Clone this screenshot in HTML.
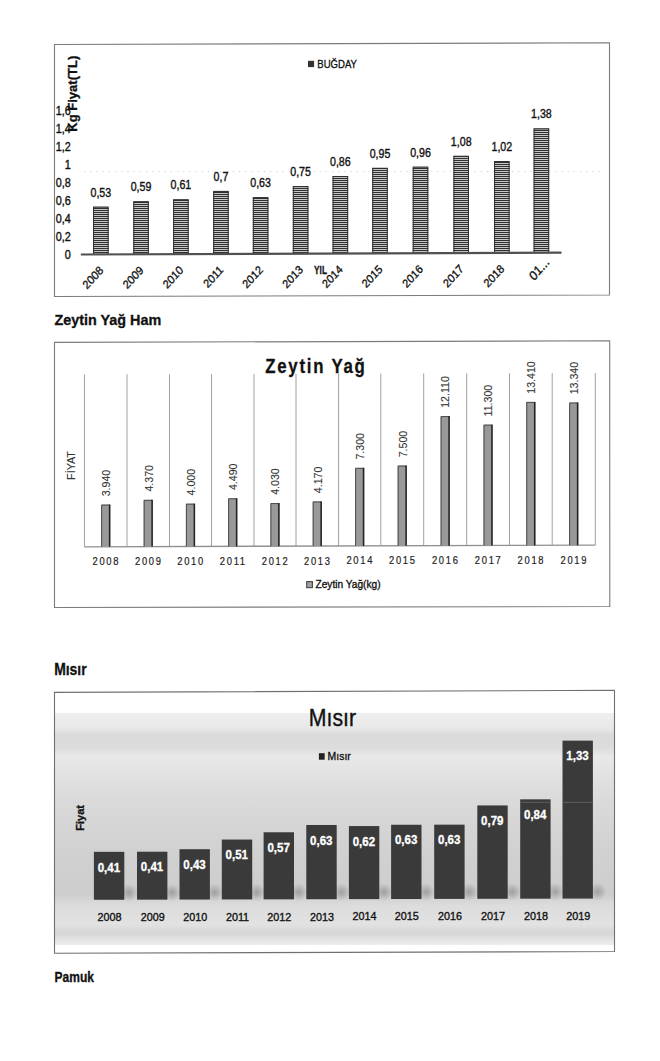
<!DOCTYPE html><html lang="tr"><head><meta charset="utf-8"><title>Grafikler</title>
<style>html,body{margin:0;padding:0;background:#fff;overflow:hidden}svg{display:block}text{font-family:"Liberation Sans",sans-serif;}</style></head><body>
<svg width="660" height="1061" viewBox="0 0 660 1061">
<defs><pattern id="stripe" width="4" height="2" patternUnits="userSpaceOnUse"><rect width="4" height="2" fill="#c6c6c6"/><rect width="4" height="1" fill="#303030"/></pattern><linearGradient id="bg3" x1="0" y1="713" x2="0" y2="945" gradientUnits="userSpaceOnUse"><stop offset="0" stop-color="#efefef"/><stop offset="0.065" stop-color="#e8e8e8"/><stop offset="0.095" stop-color="#dadada"/><stop offset="0.15" stop-color="#dcdcdc"/><stop offset="0.19" stop-color="#e9e9e9"/><stop offset="0.245" stop-color="#e3e3e3"/><stop offset="0.375" stop-color="#dadada"/><stop offset="0.59" stop-color="#d1d1d1"/><stop offset="0.78" stop-color="#cdcdcd"/><stop offset="0.83" stop-color="#dcdcdc"/><stop offset="0.91" stop-color="#e2e2e2"/><stop offset="0.95" stop-color="#d6d6d6"/><stop offset="1" stop-color="#eeeeee"/></linearGradient><radialGradient id="shadow" cx="0.5" cy="0.5" r="0.5"><stop offset="0" stop-color="#000" stop-opacity="0.22"/><stop offset="1" stop-color="#000" stop-opacity="0"/></radialGradient></defs>
<rect width="660" height="1061" fill="#fff"/>
<path d="M54.5 44.5 L609.5 42.8 L609.5 295 L54.5 296.5 Z" fill="none" stroke="#7c7c7c" stroke-width="1.1"/>
<line x1="84" y1="171.6" x2="600" y2="171.6" stroke="#cfcfcf" stroke-width="1" stroke-dasharray="1.2 5"/>
<rect x="93.05" y="206.72" width="15.6" height="47.70" fill="url(#stripe)"/>
<rect x="93.55" y="207.22" width="14.6" height="47.20" fill="none" stroke="#2e2e2e" stroke-width="1"/>
<rect x="133.25" y="201.16" width="15.6" height="53.10" fill="url(#stripe)"/>
<rect x="133.75" y="201.66" width="14.6" height="52.60" fill="none" stroke="#2e2e2e" stroke-width="1"/>
<rect x="173.10" y="199.20" width="15.6" height="54.90" fill="url(#stripe)"/>
<rect x="173.60" y="199.70" width="14.6" height="54.40" fill="none" stroke="#2e2e2e" stroke-width="1"/>
<rect x="213.15" y="190.94" width="15.6" height="63.00" fill="url(#stripe)"/>
<rect x="213.65" y="191.44" width="14.6" height="62.50" fill="none" stroke="#2e2e2e" stroke-width="1"/>
<rect x="252.80" y="197.08" width="15.6" height="56.70" fill="url(#stripe)"/>
<rect x="253.30" y="197.58" width="14.6" height="56.20" fill="none" stroke="#2e2e2e" stroke-width="1"/>
<rect x="292.80" y="186.12" width="15.6" height="67.50" fill="url(#stripe)"/>
<rect x="293.30" y="186.62" width="14.6" height="67.00" fill="none" stroke="#2e2e2e" stroke-width="1"/>
<rect x="332.55" y="176.06" width="15.6" height="77.40" fill="url(#stripe)"/>
<rect x="333.05" y="176.56" width="14.6" height="76.90" fill="none" stroke="#2e2e2e" stroke-width="1"/>
<rect x="372.20" y="167.80" width="15.6" height="85.50" fill="url(#stripe)"/>
<rect x="372.70" y="168.30" width="14.6" height="85.00" fill="none" stroke="#2e2e2e" stroke-width="1"/>
<rect x="412.70" y="166.74" width="15.6" height="86.40" fill="url(#stripe)"/>
<rect x="413.20" y="167.24" width="14.6" height="85.90" fill="none" stroke="#2e2e2e" stroke-width="1"/>
<rect x="453.40" y="155.78" width="15.6" height="97.20" fill="url(#stripe)"/>
<rect x="453.90" y="156.28" width="14.6" height="96.70" fill="none" stroke="#2e2e2e" stroke-width="1"/>
<rect x="494.05" y="161.02" width="15.6" height="91.80" fill="url(#stripe)"/>
<rect x="494.55" y="161.52" width="14.6" height="91.30" fill="none" stroke="#2e2e2e" stroke-width="1"/>
<rect x="533.60" y="128.46" width="15.6" height="124.20" fill="url(#stripe)"/>
<rect x="534.10" y="128.96" width="14.6" height="123.70" fill="none" stroke="#2e2e2e" stroke-width="1"/>
<line x1="80.8" y1="254.50" x2="561.5" y2="252.58" stroke="#505050" stroke-width="2.2"/>
<text font-size="11.5" text-anchor="middle" fill="#111" stroke="#111" stroke-width="0.35" transform="translate(100.85,196.65) scale(0.926,1.032)">0,53</text>
<text font-size="11.5" text-anchor="middle" fill="#111" stroke="#111" stroke-width="0.35" transform="translate(141.05,191.09) scale(0.926,1.032)">0,59</text>
<text font-size="11.5" text-anchor="middle" fill="#111" stroke="#111" stroke-width="0.35" transform="translate(180.90,189.13) scale(0.926,1.032)">0,61</text>
<text font-size="11.5" text-anchor="middle" fill="#111" stroke="#111" stroke-width="0.35" transform="translate(220.95,180.87) scale(0.926,1.032)">0,7</text>
<text font-size="11.5" text-anchor="middle" fill="#111" stroke="#111" stroke-width="0.35" transform="translate(260.60,187.01) scale(0.926,1.032)">0,63</text>
<text font-size="11.5" text-anchor="middle" fill="#111" stroke="#111" stroke-width="0.35" transform="translate(300.60,176.05) scale(0.926,1.032)">0,75</text>
<text font-size="11.5" text-anchor="middle" fill="#111" stroke="#111" stroke-width="0.35" transform="translate(340.35,165.99) scale(0.926,1.032)">0,86</text>
<text font-size="11.5" text-anchor="middle" fill="#111" stroke="#111" stroke-width="0.35" transform="translate(380.00,157.74) scale(0.926,1.032)">0,95</text>
<text font-size="11.5" text-anchor="middle" fill="#111" stroke="#111" stroke-width="0.35" transform="translate(420.50,156.67) scale(0.926,1.032)">0,96</text>
<text font-size="11.5" text-anchor="middle" fill="#111" stroke="#111" stroke-width="0.35" transform="translate(461.20,145.71) scale(0.926,1.032)">1,08</text>
<text font-size="11.5" text-anchor="middle" fill="#111" stroke="#111" stroke-width="0.35" transform="translate(501.85,150.95) scale(0.926,1.032)">1,02</text>
<text font-size="11.5" text-anchor="middle" fill="#111" stroke="#111" stroke-width="0.35" transform="translate(541.40,118.39) scale(0.926,1.032)">1,38</text>
<text font-size="11.5" text-anchor="end" fill="#111" stroke="#111" stroke-width="0.35" transform="translate(103.96,271.16) scale(0.932,1.025) rotate(-45)">2008</text>
<text font-size="11.5" text-anchor="end" fill="#111" stroke="#111" stroke-width="0.35" transform="translate(144.16,271.00) scale(0.932,1.025) rotate(-45)">2009</text>
<text font-size="11.5" text-anchor="end" fill="#111" stroke="#111" stroke-width="0.35" transform="translate(184.01,270.84) scale(0.932,1.025) rotate(-45)">2010</text>
<text font-size="11.5" text-anchor="end" fill="#111" stroke="#111" stroke-width="0.35" transform="translate(224.06,270.68) scale(0.932,1.025) rotate(-45)">2011</text>
<text font-size="11.5" text-anchor="end" fill="#111" stroke="#111" stroke-width="0.35" transform="translate(263.71,270.52) scale(0.932,1.025) rotate(-45)">2012</text>
<text font-size="11.5" text-anchor="end" fill="#111" stroke="#111" stroke-width="0.35" transform="translate(303.71,270.36) scale(0.932,1.025) rotate(-45)">2013</text>
<text font-size="11.5" text-anchor="end" fill="#111" stroke="#111" stroke-width="0.35" transform="translate(343.46,270.20) scale(0.932,1.025) rotate(-45)">2014</text>
<text font-size="11.5" text-anchor="end" fill="#111" stroke="#111" stroke-width="0.35" transform="translate(383.11,270.04) scale(0.932,1.025) rotate(-45)">2015</text>
<text font-size="11.5" text-anchor="end" fill="#111" stroke="#111" stroke-width="0.35" transform="translate(423.61,269.88) scale(0.932,1.025) rotate(-45)">2016</text>
<text font-size="11.5" text-anchor="end" fill="#111" stroke="#111" stroke-width="0.35" transform="translate(464.31,269.72) scale(0.932,1.025) rotate(-45)">2017</text>
<text font-size="11.5" text-anchor="end" fill="#111" stroke="#111" stroke-width="0.35" transform="translate(504.96,269.55) scale(0.932,1.025) rotate(-45)">2018</text>
<text font-size="11.5" text-anchor="end" fill="#111" stroke="#111" stroke-width="0.35" transform="translate(550.17,262.80) scale(1.023,1.179) rotate(-45)">01...</text>
<text font-size="11.5" text-anchor="end" fill="#111" stroke="#111" stroke-width="0.35" transform="translate(70.77,258.54) scale(0.940,1.074)">0</text>
<text font-size="11.5" text-anchor="end" fill="#111" stroke="#111" stroke-width="0.35" transform="translate(70.77,240.59) scale(0.940,1.074)">0,2</text>
<text font-size="11.5" text-anchor="end" fill="#111" stroke="#111" stroke-width="0.35" transform="translate(70.77,222.64) scale(0.940,1.074)">0,4</text>
<text font-size="11.5" text-anchor="end" fill="#111" stroke="#111" stroke-width="0.35" transform="translate(70.77,204.69) scale(0.940,1.074)">0,6</text>
<text font-size="11.5" text-anchor="end" fill="#111" stroke="#111" stroke-width="0.35" transform="translate(70.77,186.74) scale(0.940,1.074)">0,8</text>
<text font-size="11.5" text-anchor="end" fill="#111" stroke="#111" stroke-width="0.35" transform="translate(70.77,168.79) scale(0.940,1.074)">1</text>
<text font-size="11.5" text-anchor="end" fill="#111" stroke="#111" stroke-width="0.35" transform="translate(70.77,150.84) scale(0.940,1.074)">1,2</text>
<text font-size="11.5" text-anchor="end" fill="#111" stroke="#111" stroke-width="0.35" transform="translate(70.77,132.89) scale(0.940,1.074)">1,4</text>
<text font-size="11.5" text-anchor="end" fill="#111" stroke="#111" stroke-width="0.35" transform="translate(70.77,114.94) scale(0.940,1.074)">1,6</text>
<text font-size="12" font-weight="bold" fill="#111" stroke="#111" stroke-width="0.3" transform="translate(77.18,131.71) scale(1.049,1.086) rotate(-90)">Kg Fiyat(TL)</text>
<text font-size="11" font-weight="bold" fill="#111" stroke="#111" stroke-width="0.3" transform="translate(314.11,274.20) scale(0.752,0.973)">YIL</text>
<rect x="308" y="60.8" width="6.1" height="6.3" fill="#333"/>
<text font-size="12" fill="#111" stroke="#111" stroke-width="0.35" transform="translate(317.30,67.75) scale(0.796,0.986)">BUĞDAY</text>
<text font-size="14" font-weight="bold" fill="#111" stroke="#111" stroke-width="0.3" transform="translate(54.49,325.43) scale(1.027,1.057)">Zeytin Yağ Ham</text>
<path d="M54.5 342.4 L609.7 340.8 L609.8 606.5 L54.5 607.5 Z" fill="none" stroke="#7c7c7c" stroke-width="1.1"/>
<line x1="84.50" y1="374.50" x2="84.50" y2="546.80" stroke="#a0a0a0" stroke-width="1"/>
<line x1="127.00" y1="374.37" x2="127.00" y2="546.67" stroke="#a0a0a0" stroke-width="1"/>
<line x1="169.50" y1="374.25" x2="169.50" y2="546.53" stroke="#a0a0a0" stroke-width="1"/>
<line x1="211.50" y1="374.12" x2="211.50" y2="546.40" stroke="#a0a0a0" stroke-width="1"/>
<line x1="254.00" y1="373.99" x2="254.00" y2="546.27" stroke="#a0a0a0" stroke-width="1"/>
<line x1="296.00" y1="373.87" x2="296.00" y2="546.14" stroke="#a0a0a0" stroke-width="1"/>
<line x1="338.60" y1="373.74" x2="338.60" y2="546.00" stroke="#a0a0a0" stroke-width="1"/>
<line x1="380.80" y1="373.61" x2="380.80" y2="545.87" stroke="#a0a0a0" stroke-width="1"/>
<line x1="423.70" y1="373.48" x2="423.70" y2="545.74" stroke="#a0a0a0" stroke-width="1"/>
<line x1="466.70" y1="373.35" x2="466.70" y2="545.60" stroke="#a0a0a0" stroke-width="1"/>
<line x1="509.50" y1="373.23" x2="509.50" y2="545.47" stroke="#a0a0a0" stroke-width="1"/>
<line x1="552.20" y1="373.10" x2="552.20" y2="545.34" stroke="#a0a0a0" stroke-width="1"/>
<line x1="595.30" y1="372.97" x2="595.30" y2="545.20" stroke="#a0a0a0" stroke-width="1"/>
<line x1="84.5" y1="546.80" x2="595.3" y2="545.20" stroke="#909090" stroke-width="1.3"/>
<rect x="101.15" y="504.58" width="9.2" height="42.16" fill="#999"/>
<path d="M101.65 546.73V505.08H109.75" fill="none" stroke="#4a4a4a" stroke-width="1"/>
<line x1="109.60" y1="504.58" x2="109.60" y2="546.73" stroke="#222" stroke-width="1.5"/>
<rect x="143.65" y="499.84" width="9.2" height="46.76" fill="#999"/>
<path d="M144.15 546.60V500.34H152.25" fill="none" stroke="#4a4a4a" stroke-width="1"/>
<line x1="152.10" y1="499.84" x2="152.10" y2="546.60" stroke="#222" stroke-width="1.5"/>
<rect x="185.90" y="503.67" width="9.2" height="42.80" fill="#999"/>
<path d="M186.40 546.47V504.17H194.50" fill="none" stroke="#4a4a4a" stroke-width="1"/>
<line x1="194.35" y1="503.67" x2="194.35" y2="546.47" stroke="#222" stroke-width="1.5"/>
<rect x="228.15" y="498.29" width="9.2" height="48.04" fill="#999"/>
<path d="M228.65 546.34V498.79H236.75" fill="none" stroke="#4a4a4a" stroke-width="1"/>
<line x1="236.60" y1="498.29" x2="236.60" y2="546.34" stroke="#222" stroke-width="1.5"/>
<rect x="270.40" y="503.08" width="9.2" height="43.12" fill="#999"/>
<path d="M270.90 546.20V503.58H279.00" fill="none" stroke="#4a4a4a" stroke-width="1"/>
<line x1="278.85" y1="503.08" x2="278.85" y2="546.20" stroke="#222" stroke-width="1.5"/>
<rect x="312.70" y="501.45" width="9.2" height="44.62" fill="#999"/>
<path d="M313.20 546.07V501.95H321.30" fill="none" stroke="#4a4a4a" stroke-width="1"/>
<line x1="321.15" y1="501.45" x2="321.15" y2="546.07" stroke="#222" stroke-width="1.5"/>
<rect x="355.10" y="467.83" width="9.2" height="78.11" fill="#999"/>
<path d="M355.60 545.94V468.33H363.70" fill="none" stroke="#4a4a4a" stroke-width="1"/>
<line x1="363.55" y1="467.83" x2="363.55" y2="545.94" stroke="#222" stroke-width="1.5"/>
<rect x="397.65" y="465.56" width="9.2" height="80.25" fill="#999"/>
<path d="M398.15 545.81V466.06H406.25" fill="none" stroke="#4a4a4a" stroke-width="1"/>
<line x1="406.10" y1="465.56" x2="406.10" y2="545.81" stroke="#222" stroke-width="1.5"/>
<rect x="440.60" y="416.09" width="9.2" height="129.58" fill="#999"/>
<path d="M441.10 545.67V416.59H449.20" fill="none" stroke="#4a4a4a" stroke-width="1"/>
<line x1="449.05" y1="416.09" x2="449.05" y2="545.67" stroke="#222" stroke-width="1.5"/>
<rect x="483.50" y="424.63" width="9.2" height="120.91" fill="#999"/>
<path d="M484.00 545.54V425.13H492.10" fill="none" stroke="#4a4a4a" stroke-width="1"/>
<line x1="491.95" y1="424.63" x2="491.95" y2="545.54" stroke="#222" stroke-width="1.5"/>
<rect x="526.25" y="401.92" width="9.2" height="143.49" fill="#999"/>
<path d="M526.75 545.40V402.42H534.85" fill="none" stroke="#4a4a4a" stroke-width="1"/>
<line x1="534.70" y1="401.92" x2="534.70" y2="545.40" stroke="#222" stroke-width="1.5"/>
<rect x="569.15" y="402.53" width="9.2" height="142.74" fill="#999"/>
<path d="M569.65 545.27V403.03H577.75" fill="none" stroke="#4a4a4a" stroke-width="1"/>
<line x1="577.60" y1="402.53" x2="577.60" y2="545.27" stroke="#222" stroke-width="1.5"/>
<text font-size="10" fill="#333" stroke="#333" stroke-width="0.1" transform="translate(110.00,496.33) scale(1.029,1.062) rotate(-90)">3.940</text>
<text font-size="10" fill="#333" stroke="#333" stroke-width="0.1" transform="translate(152.50,491.60) scale(1.029,1.062) rotate(-90)">4.370</text>
<text font-size="10" fill="#333" stroke="#333" stroke-width="0.1" transform="translate(194.75,495.42) scale(1.029,1.062) rotate(-90)">4.000</text>
<text font-size="10" fill="#333" stroke="#333" stroke-width="0.1" transform="translate(237.00,490.05) scale(1.029,1.062) rotate(-90)">4.490</text>
<text font-size="10" fill="#333" stroke="#333" stroke-width="0.1" transform="translate(279.25,494.84) scale(1.029,1.062) rotate(-90)">4.030</text>
<text font-size="10" fill="#333" stroke="#333" stroke-width="0.1" transform="translate(321.55,493.21) scale(1.029,1.062) rotate(-90)">4.170</text>
<text font-size="10" fill="#333" stroke="#333" stroke-width="0.1" transform="translate(363.95,459.58) scale(1.029,1.062) rotate(-90)">7.300</text>
<text font-size="10" fill="#333" stroke="#333" stroke-width="0.1" transform="translate(406.50,457.31) scale(1.029,1.062) rotate(-90)">7.500</text>
<text font-size="10" fill="#333" stroke="#333" stroke-width="0.1" transform="translate(449.45,407.85) scale(1.029,1.062) rotate(-90)">12.110</text>
<text font-size="10" fill="#333" stroke="#333" stroke-width="0.1" transform="translate(492.35,416.38) scale(1.029,1.062) rotate(-90)">11.300</text>
<text font-size="10" fill="#333" stroke="#333" stroke-width="0.1" transform="translate(535.10,393.67) scale(1.029,1.062) rotate(-90)">13.410</text>
<text font-size="10" fill="#333" stroke="#333" stroke-width="0.1" transform="translate(578.00,394.29) scale(1.029,1.062) rotate(-90)">13.340</text>
<text font-size="11" text-anchor="middle" fill="#222" stroke="#222" stroke-width="0.2" letter-spacing="2" transform="translate(106.30,565.16) scale(0.851,0.962)">2008</text>
<text font-size="11" text-anchor="middle" fill="#222" stroke="#222" stroke-width="0.2" letter-spacing="2" transform="translate(148.80,565.03) scale(0.851,0.962)">2009</text>
<text font-size="11" text-anchor="middle" fill="#222" stroke="#222" stroke-width="0.2" letter-spacing="2" transform="translate(191.05,564.89) scale(0.851,0.962)">2010</text>
<text font-size="11" text-anchor="middle" fill="#222" stroke="#222" stroke-width="0.2" letter-spacing="2" transform="translate(233.30,564.76) scale(0.851,0.962)">2011</text>
<text font-size="11" text-anchor="middle" fill="#222" stroke="#222" stroke-width="0.2" letter-spacing="2" transform="translate(275.55,564.63) scale(0.851,0.962)">2012</text>
<text font-size="11" text-anchor="middle" fill="#222" stroke="#222" stroke-width="0.2" letter-spacing="2" transform="translate(317.85,564.50) scale(0.851,0.962)">2013</text>
<text font-size="11" text-anchor="middle" fill="#222" stroke="#222" stroke-width="0.2" letter-spacing="2" transform="translate(360.25,564.36) scale(0.851,0.962)">2014</text>
<text font-size="11" text-anchor="middle" fill="#222" stroke="#222" stroke-width="0.2" letter-spacing="2" transform="translate(402.80,564.23) scale(0.851,0.962)">2015</text>
<text font-size="11" text-anchor="middle" fill="#222" stroke="#222" stroke-width="0.2" letter-spacing="2" transform="translate(445.75,564.10) scale(0.851,0.962)">2016</text>
<text font-size="11" text-anchor="middle" fill="#222" stroke="#222" stroke-width="0.2" letter-spacing="2" transform="translate(488.65,563.96) scale(0.851,0.962)">2017</text>
<text font-size="11" text-anchor="middle" fill="#222" stroke="#222" stroke-width="0.2" letter-spacing="2" transform="translate(531.40,563.83) scale(0.851,0.962)">2018</text>
<text font-size="11" text-anchor="middle" fill="#222" stroke="#222" stroke-width="0.2" letter-spacing="2" transform="translate(574.30,563.69) scale(0.851,0.962)">2019</text>
<text font-size="21" font-weight="bold" fill="#111" stroke="#111" stroke-width="0.3" letter-spacing="2.2" transform="translate(265.20,372.56) scale(0.801,0.920)">Zeytin Yağ</text>
<rect x="306.7" y="581.6" width="5.7" height="6.1" fill="#a0a0a0" stroke="#3a3a3a" stroke-width="1"/>
<text font-size="11" fill="#111" stroke="#111" stroke-width="0.35" transform="translate(315.47,588.21) scale(0.925,1.019)">Zeytin Yağ(kg)</text>
<text font-size="10" fill="#333" stroke="#333" stroke-width="0.1" transform="translate(75.00,479.90) scale(1.006,1.073) rotate(-90)">FİYAT</text>
<text font-size="16" font-weight="bold" fill="#111" stroke="#111" stroke-width="0.3" transform="translate(54.13,674.73) scale(0.872,1.067)">Mısır</text>
<rect x="55" y="713" width="559" height="232" fill="url(#bg3)"/>
<ellipse cx="128.90" cy="892.80" rx="9" ry="9" fill="url(#shadow)"/>
<ellipse cx="172.00" cy="892.69" rx="9" ry="9" fill="url(#shadow)"/>
<ellipse cx="214.50" cy="892.59" rx="9" ry="9" fill="url(#shadow)"/>
<ellipse cx="256.80" cy="892.48" rx="9" ry="9" fill="url(#shadow)"/>
<ellipse cx="298.60" cy="892.38" rx="9" ry="9" fill="url(#shadow)"/>
<ellipse cx="341.30" cy="892.27" rx="9" ry="9" fill="url(#shadow)"/>
<ellipse cx="383.90" cy="892.16" rx="9" ry="9" fill="url(#shadow)"/>
<ellipse cx="426.10" cy="892.06" rx="9" ry="9" fill="url(#shadow)"/>
<ellipse cx="469.20" cy="891.95" rx="9" ry="9" fill="url(#shadow)"/>
<ellipse cx="512.30" cy="891.84" rx="9" ry="9" fill="url(#shadow)"/>
<ellipse cx="555.20" cy="891.73" rx="9" ry="9" fill="url(#shadow)"/>
<ellipse cx="597.50" cy="891.63" rx="9" ry="9" fill="url(#shadow)"/>
<rect x="93.90" y="851.83" width="30.4" height="47.94" fill="#3a3a3a"/>
<rect x="137.00" y="851.72" width="30.4" height="47.94" fill="#3a3a3a"/>
<rect x="179.50" y="849.22" width="30.4" height="50.33" fill="#3a3a3a"/>
<rect x="221.80" y="839.55" width="30.4" height="59.90" fill="#3a3a3a"/>
<rect x="263.60" y="832.27" width="30.4" height="67.07" fill="#3a3a3a"/>
<rect x="306.30" y="824.98" width="30.4" height="74.25" fill="#3a3a3a"/>
<rect x="348.90" y="826.07" width="30.4" height="73.05" fill="#3a3a3a"/>
<rect x="391.10" y="824.77" width="30.4" height="74.25" fill="#3a3a3a"/>
<rect x="434.20" y="824.66" width="30.4" height="74.25" fill="#3a3a3a"/>
<rect x="477.30" y="805.42" width="30.4" height="93.38" fill="#3a3a3a"/>
<rect x="520.20" y="799.33" width="30.4" height="99.36" fill="#3a3a3a"/>
<rect x="562.50" y="740.62" width="30.4" height="157.97" fill="#3a3a3a"/>
<line x1="520.4" y1="802.3" x2="550.1" y2="802.3" stroke="#5e5e5e" stroke-width="1"/>
<line x1="562.7" y1="802.3" x2="592.7" y2="802.3" stroke="#5e5e5e" stroke-width="1"/>
<text font-size="12" font-weight="bold" text-anchor="middle" fill="#fff" stroke="#fff" stroke-width="0.3" transform="translate(108.90,871.51) scale(0.960,0.995)">0,41</text>
<text font-size="12" font-weight="bold" text-anchor="middle" fill="#fff" stroke="#fff" stroke-width="0.3" transform="translate(152.00,871.40) scale(0.960,0.995)">0,41</text>
<text font-size="12" font-weight="bold" text-anchor="middle" fill="#fff" stroke="#fff" stroke-width="0.3" transform="translate(194.50,868.90) scale(0.960,0.995)">0,43</text>
<text font-size="12" font-weight="bold" text-anchor="middle" fill="#fff" stroke="#fff" stroke-width="0.3" transform="translate(236.80,859.23) scale(0.960,0.995)">0,51</text>
<text font-size="12" font-weight="bold" text-anchor="middle" fill="#fff" stroke="#fff" stroke-width="0.3" transform="translate(278.60,851.95) scale(0.960,0.995)">0,57</text>
<text font-size="12" font-weight="bold" text-anchor="middle" fill="#fff" stroke="#fff" stroke-width="0.3" transform="translate(321.30,844.67) scale(0.960,0.995)">0,63</text>
<text font-size="12" font-weight="bold" text-anchor="middle" fill="#fff" stroke="#fff" stroke-width="0.3" transform="translate(363.90,845.76) scale(0.960,0.995)">0,62</text>
<text font-size="12" font-weight="bold" text-anchor="middle" fill="#fff" stroke="#fff" stroke-width="0.3" transform="translate(406.10,844.45) scale(0.960,0.995)">0,63</text>
<text font-size="12" font-weight="bold" text-anchor="middle" fill="#fff" stroke="#fff" stroke-width="0.3" transform="translate(449.20,844.35) scale(0.960,0.995)">0,63</text>
<text font-size="12" font-weight="bold" text-anchor="middle" fill="#fff" stroke="#fff" stroke-width="0.3" transform="translate(492.30,825.10) scale(0.960,0.995)">0,79</text>
<text font-size="12" font-weight="bold" text-anchor="middle" fill="#fff" stroke="#fff" stroke-width="0.3" transform="translate(535.20,819.02) scale(0.960,0.995)">0,84</text>
<text font-size="12" font-weight="bold" text-anchor="middle" fill="#fff" stroke="#fff" stroke-width="0.3" transform="translate(577.50,760.31) scale(0.960,0.995)">1,33</text>
<text font-size="11.5" text-anchor="middle" fill="#111" stroke="#111" stroke-width="0.35" transform="translate(109.60,921.10) scale(0.939,1.025)">2008</text>
<text font-size="11.5" text-anchor="middle" fill="#111" stroke="#111" stroke-width="0.35" transform="translate(152.70,920.99) scale(0.939,1.025)">2009</text>
<text font-size="11.5" text-anchor="middle" fill="#111" stroke="#111" stroke-width="0.35" transform="translate(195.20,920.89) scale(0.939,1.025)">2010</text>
<text font-size="11.5" text-anchor="middle" fill="#111" stroke="#111" stroke-width="0.35" transform="translate(237.50,920.78) scale(0.939,1.025)">2011</text>
<text font-size="11.5" text-anchor="middle" fill="#111" stroke="#111" stroke-width="0.35" transform="translate(279.30,920.68) scale(0.939,1.025)">2012</text>
<text font-size="11.5" text-anchor="middle" fill="#111" stroke="#111" stroke-width="0.35" transform="translate(322.00,920.57) scale(0.939,1.025)">2013</text>
<text font-size="11.5" text-anchor="middle" fill="#111" stroke="#111" stroke-width="0.35" transform="translate(364.60,920.46) scale(0.939,1.025)">2014</text>
<text font-size="11.5" text-anchor="middle" fill="#111" stroke="#111" stroke-width="0.35" transform="translate(406.80,920.36) scale(0.939,1.025)">2015</text>
<text font-size="11.5" text-anchor="middle" fill="#111" stroke="#111" stroke-width="0.35" transform="translate(449.90,920.25) scale(0.939,1.025)">2016</text>
<text font-size="11.5" text-anchor="middle" fill="#111" stroke="#111" stroke-width="0.35" transform="translate(493.00,920.14) scale(0.939,1.025)">2017</text>
<text font-size="11.5" text-anchor="middle" fill="#111" stroke="#111" stroke-width="0.35" transform="translate(535.90,920.03) scale(0.939,1.025)">2018</text>
<text font-size="11.5" text-anchor="middle" fill="#111" stroke="#111" stroke-width="0.35" transform="translate(578.20,919.93) scale(0.939,1.025)">2019</text>
<text font-size="23" fill="#111" stroke="#111" stroke-width="0.35" transform="translate(308.85,726.15) scale(0.925,1.006)">Mısır</text>
<rect x="318.9" y="753.2" width="5.8" height="6.5" fill="#222"/>
<text font-size="11.5" fill="#111" stroke="#111" stroke-width="0.35" transform="translate(327.59,760.16) scale(0.910,0.970)">Mısır</text>
<text font-size="10.5" font-weight="bold" fill="#111" stroke="#111" stroke-width="0.3" transform="translate(83.82,830.79) scale(1.056,1.053) rotate(-90)">Fiyat</text>
<path d="M54.5 692.4 L614.5 690.3 L614.5 951.5 L54.5 953.3 Z" fill="none" stroke="#707070" stroke-width="1.1"/>
<text font-size="13.5" font-weight="bold" fill="#111" stroke="#111" stroke-width="0.3" transform="translate(54.61,981.60) scale(0.890,1.097)">Pamuk</text>
</svg></body></html>
